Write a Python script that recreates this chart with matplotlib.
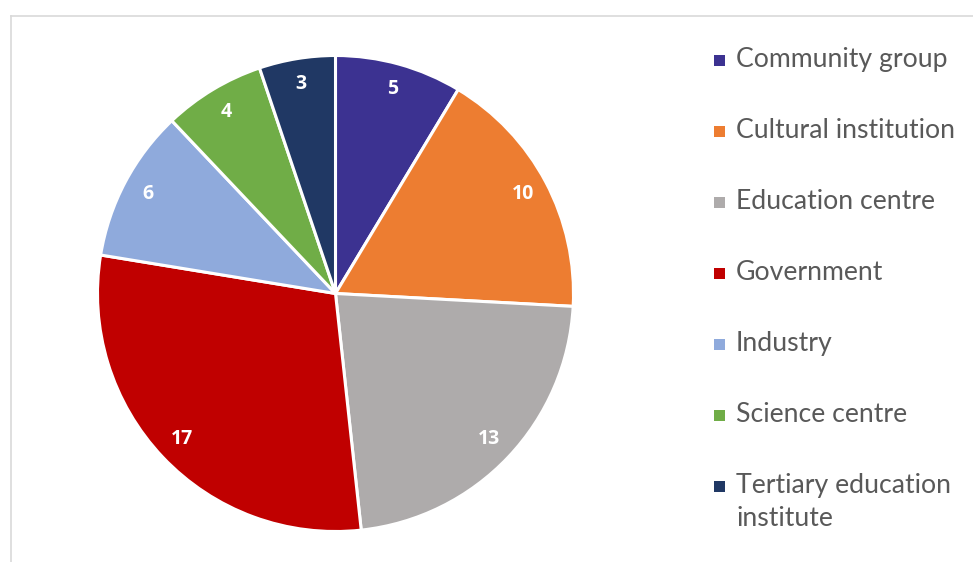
import matplotlib
matplotlib.use("Agg")
import matplotlib.pyplot as plt
from matplotlib.patches import Rectangle
from matplotlib.lines import Line2D

categories = ["Community group", "Cultural institution", "Education centre", "Government",
              "Industry", "Science centre", "Tertiary education\ninstitute"]
values = [5, 10, 13, 17, 6, 4, 3]
colors = ["#3C3291", "#ED7D31", "#AEABAB", "#C00000", "#8FAADC", "#70AD47", "#203864"]

W, H = 973, 562
fig = plt.figure(figsize=(W / 100, H / 100), dpi=100)
fig.patch.set_facecolor("white")

# chart frame (left and top edges visible)
fig.add_artist(Line2D([10.5 / W, 10.5 / W], [0, 1 - 15.5 / H], transform=fig.transFigure,
                      color="#D9D9D9", lw=1.2))
fig.add_artist(Line2D([10.5 / W, 1], [1 - 15.5 / H, 1 - 15.5 / H], transform=fig.transFigure,
                      color="#D9D9D9", lw=1.2))

cx, cy, r = 335.5, 293.5, 238
ax = fig.add_axes([(cx - r) / W, (H - cy - r) / H, 2 * r / W, 2 * r / H])
wedges, texts = ax.pie(values, colors=colors, startangle=90, counterclock=False,
                       labels=[str(v) for v in values], labeldistance=0.89,
                       wedgeprops=dict(edgecolor="white", linewidth=2.2))
for t in texts:
    t.set_color("white")
    t.set_fontweight("bold")
    t.set_fontsize(14)
    t.set_fontfamily("Open Sans")
    t.set_ha("center")
    t.set_va("center")
ax.set_xlim(-1, 1)
ax.set_ylim(-1, 1)
ax.axis("off")

# legend
ys = [58, 129, 200, 271, 342, 413, 484]
for lab, col, y in zip(categories, colors, ys):
    sq = 11
    fig.add_artist(Rectangle((714 / W, 1 - (y + 2 + sq / 2) / H), sq / W, sq / H,
                             transform=fig.transFigure, facecolor=col, edgecolor="none"))
    fig.text(736 / W, 1 - (y - 11) / H, lab, fontsize=19.2, family="Lato", color="#595959",
             ha="left", va="top", linespacing=1.42)

fig.savefig("out.png", dpi=100)
